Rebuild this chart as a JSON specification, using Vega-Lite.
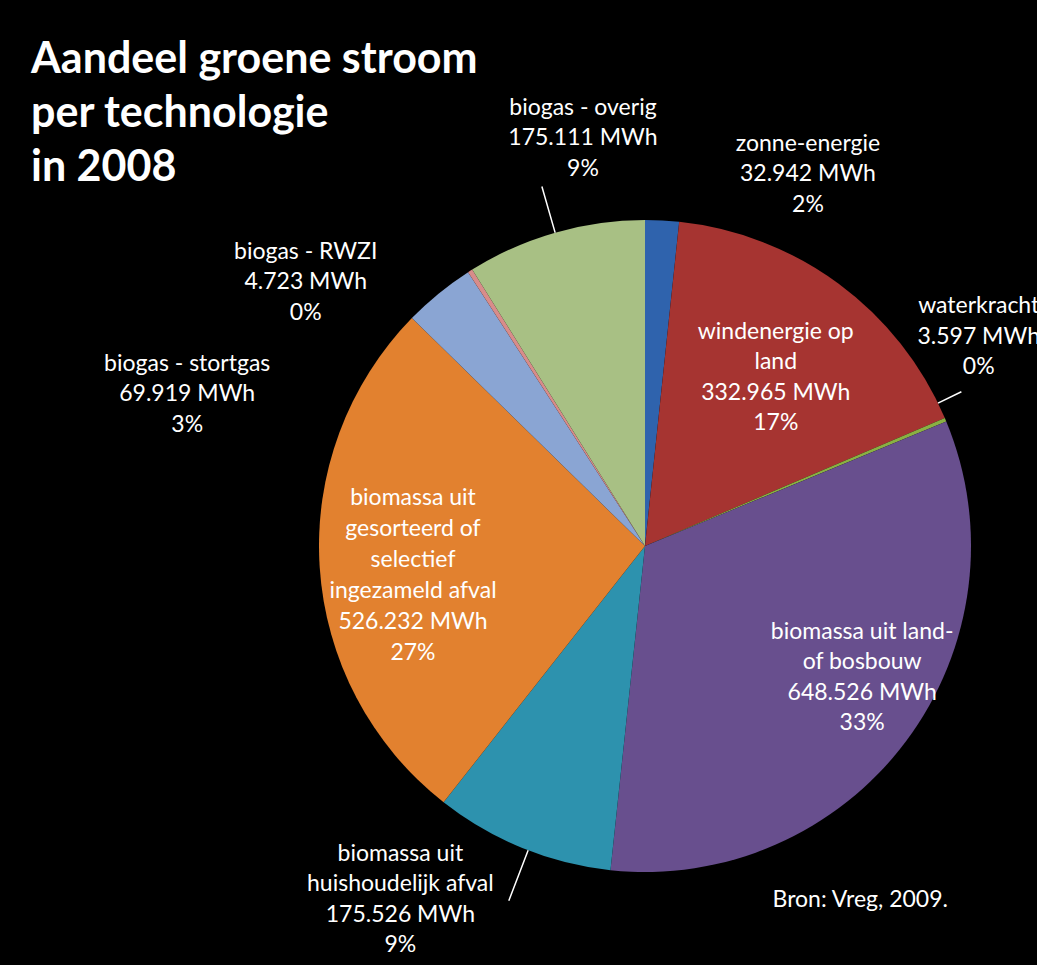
{
  "$schema": "https://vega.github.io/schema/vega-lite/v6.json",
  "background": "black",
  "autosize": {"type": "none"},
  "padding": {"left": 295, "top": 196, "right": 42, "bottom": 69},
  "width": 700,
  "height": 700,
  "config": {"view": {"stroke": null}, "font": "Lato"},
  "title": {
    "text": ["Aandeel groene stroom", "per technologie", "in 2008"],
    "anchor": "start",
    "frame": "group",
    "orient": "top",
    "font": "Lato",
    "fontSize": 43,
    "fontWeight": "bold",
    "lineHeight": 54,
    "color": "white",
    "dx": -264,
    "dy": 134,
    "offset": 10
  },
  "data": {
    "values": [
      {"idx": 1, "key": "zonne", "technologie": "zonne-energie", "mwh": 32942, "aandeel": "2%", "label": "zonne-energie\n32.942 MWh\n2%"},
      {"idx": 2, "key": "wind", "technologie": "windenergie op land", "mwh": 332965, "aandeel": "17%", "label": "windenergie op\nland\n332.965 MWh\n17%"},
      {"idx": 3, "key": "water", "technologie": "waterkracht", "mwh": 3597, "aandeel": "0%", "label": "waterkracht\n3.597 MWh\n0%"},
      {"idx": 4, "key": "land", "technologie": "biomassa uit land- of bosbouw", "mwh": 648526, "aandeel": "33%", "label": "biomassa uit land-\nof bosbouw\n648.526 MWh\n33%"},
      {"idx": 5, "key": "huis", "technologie": "biomassa uit huishoudelijk afval", "mwh": 175526, "aandeel": "9%", "label": "biomassa uit\nhuishoudelijk afval\n175.526 MWh\n9%"},
      {"idx": 6, "key": "sorteer", "technologie": "biomassa uit gesorteerd of selectief ingezameld afval", "mwh": 526232, "aandeel": "27%", "label": "biomassa uit\ngesorteerd of\nselectief\ningezameld afval\n526.232 MWh\n27%"},
      {"idx": 7, "key": "stortgas", "technologie": "biogas - stortgas", "mwh": 69919, "aandeel": "3%", "label": "biogas - stortgas\n69.919 MWh\n3%"},
      {"idx": 8, "key": "rwzi", "technologie": "biogas - RWZI", "mwh": 4723, "aandeel": "0%", "label": "biogas - RWZI\n4.723 MWh\n0%"},
      {"idx": 9, "key": "overig", "technologie": "biogas - overig", "mwh": 175111, "aandeel": "9%", "label": "biogas - overig\n175.111 MWh\n9%"}
    ]
  },
  "layer": [
    {
      "mark": {"type": "arc", "radius": 326},
      "encoding": {
        "theta": {"field": "mwh", "type": "quantitative", "stack": true},
        "order": {"field": "idx", "type": "quantitative"},
        "color": {
          "field": "key",
          "type": "nominal",
          "legend": null,
          "scale": {
            "domain": ["zonne", "wind", "water", "land", "huis", "sorteer", "stortgas", "rwzi", "overig"],
            "range": ["#2F63AD", "#A63431", "#8AB043", "#684F8E", "#2D92AE", "#E2812F", "#8AA5D3", "#D88C8A", "#A8C084"]
          }
        }
      }
    },
    {
      "mark": {"type": "arc", "filled": false, "stroke": "white", "strokeWidth": 1.5, "radius": 374, "radius2": 326, "padAngle": 1, "thetaOffset": 0},
      "encoding": {
        "theta": {"field": "mwh", "type": "quantitative", "stack": true},
        "order": {"field": "idx", "type": "quantitative"},
        "detail": {"field": "key", "type": "nominal"},
        "opacity": {"condition": {"test": "datum.key === 'overig'", "value": 1}, "value": 0}
      }
    },
    {
      "mark": {"type": "arc", "filled": false, "stroke": "white", "strokeWidth": 1.5, "radius": 380, "radius2": 326, "padAngle": 1, "thetaOffset": -0.0195},
      "encoding": {
        "theta": {"field": "mwh", "type": "quantitative", "stack": true},
        "order": {"field": "idx", "type": "quantitative"},
        "detail": {"field": "key", "type": "nominal"},
        "opacity": {"condition": {"test": "datum.key === 'huis'", "value": 1}, "value": 0}
      }
    },
    {
      "mark": {"type": "arc", "filled": false, "stroke": "white", "strokeWidth": 1.5, "radius": 352, "radius2": 326, "padAngle": 1, "thetaOffset": -0.056},
      "encoding": {
        "theta": {"field": "mwh", "type": "quantitative", "stack": true},
        "order": {"field": "idx", "type": "quantitative"},
        "detail": {"field": "key", "type": "nominal"},
        "opacity": {"condition": {"test": "datum.key === 'water'", "value": 1}, "value": 0}
      }
    },
    {
      "mark": {"type": "text", "radius": 380, "dx": 143, "dy": -23, "align": "center", "baseline": "middle", "lineBreak": "\n", "lineHeight": 30.5, "fontSize": 23, "font": "Lato", "color": "white"},
      "encoding": {
        "theta": {"field": "mwh", "type": "quantitative", "stack": true},
        "order": {"field": "idx", "type": "quantitative"},
        "detail": {"field": "key", "type": "nominal"},
        "text": {"condition": {"test": "datum.key === 'zonne'", "field": "label"}, "value": ""}
      }
    },
    {
      "mark": {"type": "text", "radius": 210, "dx": 6, "dy": -45.5, "align": "center", "baseline": "middle", "lineBreak": "\n", "lineHeight": 30.5, "fontSize": 23, "font": "Lato", "color": "white"},
      "encoding": {
        "theta": {"field": "mwh", "type": "quantitative", "stack": true},
        "order": {"field": "idx", "type": "quantitative"},
        "detail": {"field": "key", "type": "nominal"},
        "text": {"condition": {"test": "datum.key === 'wind'", "field": "label"}, "value": ""}
      }
    },
    {
      "mark": {"type": "text", "radius": 375, "dx": -12, "dy": -94.5, "align": "center", "baseline": "middle", "lineBreak": "\n", "lineHeight": 30.5, "fontSize": 23, "font": "Lato", "color": "white"},
      "encoding": {
        "theta": {"field": "mwh", "type": "quantitative", "stack": true},
        "order": {"field": "idx", "type": "quantitative"},
        "detail": {"field": "key", "type": "nominal"},
        "text": {"condition": {"test": "datum.key === 'water'", "field": "label"}, "value": ""}
      }
    },
    {
      "mark": {"type": "text", "radius": 255, "dx": 13, "dy": -67, "align": "center", "baseline": "middle", "lineBreak": "\n", "lineHeight": 30.5, "fontSize": 23, "font": "Lato", "color": "white"},
      "encoding": {
        "theta": {"field": "mwh", "type": "quantitative", "stack": true},
        "order": {"field": "idx", "type": "quantitative"},
        "detail": {"field": "key", "type": "nominal"},
        "text": {"condition": {"test": "datum.key === 'land'", "field": "label"}, "value": ""}
      }
    },
    {
      "mark": {"type": "text", "radius": 400, "dx": -94, "dy": -63, "align": "center", "baseline": "middle", "lineBreak": "\n", "lineHeight": 30.5, "fontSize": 23, "font": "Lato", "color": "white"},
      "encoding": {
        "theta": {"field": "mwh", "type": "quantitative", "stack": true},
        "order": {"field": "idx", "type": "quantitative"},
        "detail": {"field": "key", "type": "nominal"},
        "text": {"condition": {"test": "datum.key === 'huis'", "field": "label"}, "value": ""}
      }
    },
    {
      "mark": {"type": "text", "radius": 235, "dx": 2.5, "dy": -63, "align": "center", "baseline": "middle", "lineBreak": "\n", "lineHeight": 31, "fontSize": 23, "font": "Lato", "color": "white"},
      "encoding": {
        "theta": {"field": "mwh", "type": "quantitative", "stack": true},
        "order": {"field": "idx", "type": "quantitative"},
        "detail": {"field": "key", "type": "nominal"},
        "text": {"condition": {"test": "datum.key === 'sorteer'", "field": "label"}, "value": ""}
      }
    },
    {
      "mark": {"type": "text", "radius": 450, "dx": -173, "dy": 166, "align": "center", "baseline": "middle", "lineBreak": "\n", "lineHeight": 30.5, "fontSize": 23, "font": "Lato", "color": "white"},
      "encoding": {
        "theta": {"field": "mwh", "type": "quantitative", "stack": true},
        "order": {"field": "idx", "type": "quantitative"},
        "detail": {"field": "key", "type": "nominal"},
        "text": {"condition": {"test": "datum.key === 'stortgas'", "field": "label"}, "value": ""}
      }
    },
    {
      "mark": {"type": "text", "radius": 420, "dx": -114, "dy": 60, "align": "center", "baseline": "middle", "lineBreak": "\n", "lineHeight": 30.5, "fontSize": 23, "font": "Lato", "color": "white"},
      "encoding": {
        "theta": {"field": "mwh", "type": "quantitative", "stack": true},
        "order": {"field": "idx", "type": "quantitative"},
        "detail": {"field": "key", "type": "nominal"},
        "text": {"condition": {"test": "datum.key === 'rwzi'", "field": "label"}, "value": ""}
      }
    },
    {
      "mark": {"type": "text", "radius": 410, "dx": 51, "dy": -44, "align": "center", "baseline": "middle", "lineBreak": "\n", "lineHeight": 30.5, "fontSize": 23, "font": "Lato", "color": "white"},
      "encoding": {
        "theta": {"field": "mwh", "type": "quantitative", "stack": true},
        "order": {"field": "idx", "type": "quantitative"},
        "detail": {"field": "key", "type": "nominal"},
        "text": {"condition": {"test": "datum.key === 'overig'", "field": "label"}, "value": ""}
      }
    },
    {
      "mark": {"type": "text", "radius": 380, "dx": -89, "dy": 126, "align": "center", "baseline": "middle", "fontSize": 23, "font": "Lato", "color": "white"},
      "encoding": {
        "theta": {"field": "mwh", "type": "quantitative", "stack": true},
        "order": {"field": "idx", "type": "quantitative"},
        "detail": {"field": "key", "type": "nominal"},
        "text": {"condition": {"test": "datum.key === 'land'", "value": "Bron: Vreg, 2009."}, "value": ""}
      }
    }
  ]
}
